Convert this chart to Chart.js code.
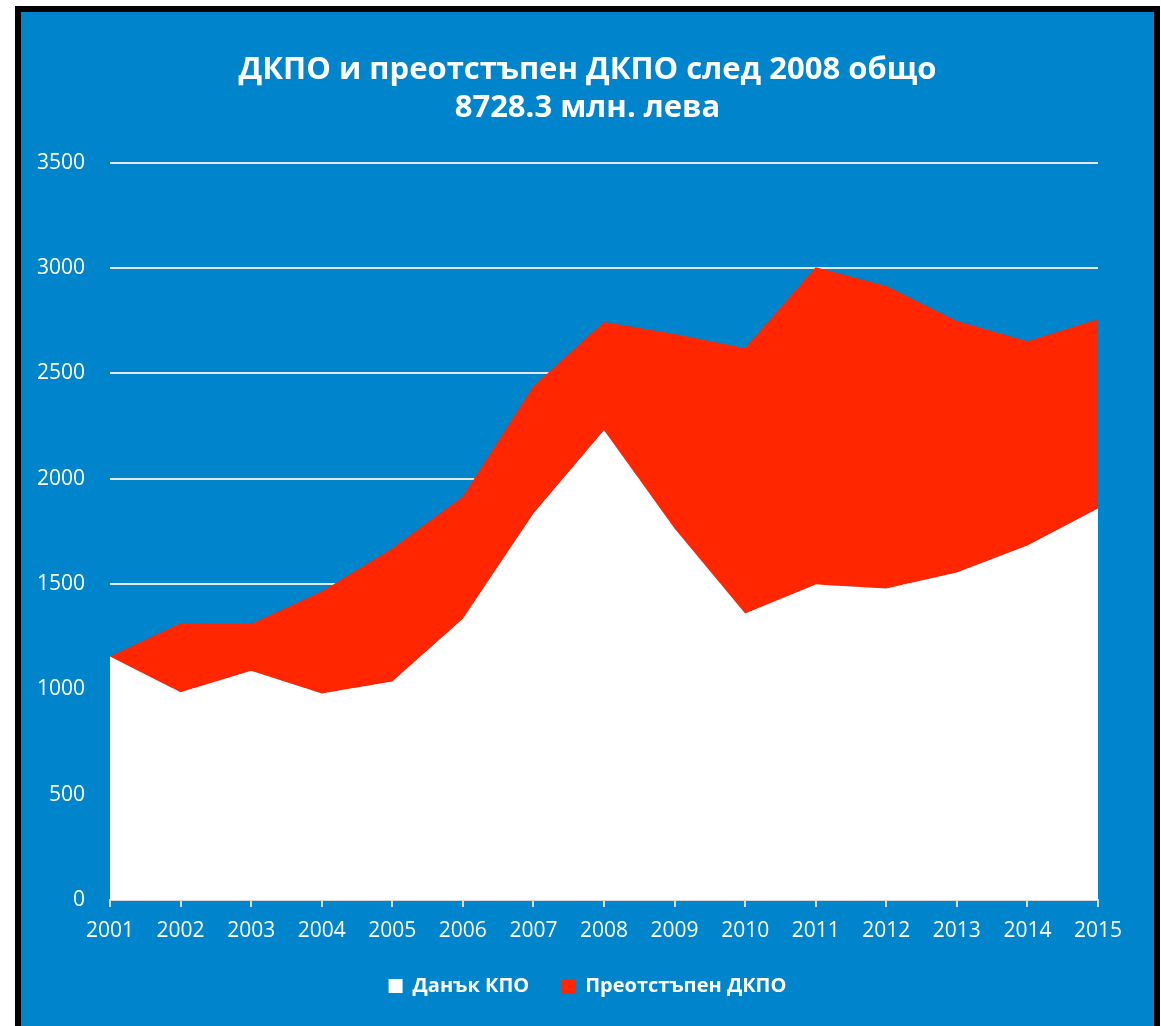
<!DOCTYPE html>
<html>
<head>
<meta charset="utf-8">
<script src="https://cdn.jsdelivr.net/npm/chart.js@4/dist/chart.umd.min.js"></script>
<style>
  html, body { margin: 0; padding: 0; background: #fff; overflow: hidden; }
  #frame {
    position: absolute; left: 15px; top: 6px;
    width: 1133px; height: 1014px;
    border: 6px solid #000; border-bottom: none;
    background: #0084cc;
  }
  #canvas { display: block; }
</style>
</head>
<body>
<div id="frame"><canvas id="canvas" width="1133" height="1014"></canvas></div>
<script>
var years = ['2001', '2002', '2003', '2004', '2005', '2006', '2007', '2008',
             '2009', '2010', '2011', '2012', '2013', '2014', '2015'];
// Данък КПО (долният, бял слой)
var tax = [1156, 986, 1088, 981, 1037, 1336, 1835, 2230, 1764, 1360, 1498, 1479, 1555, 1683, 1859];
// Преотстъпен ДКПО (горният, червен слой)
var waived = [0, 328, 223, 484, 632, 580, 604, 514, 923, 1260, 1507, 1436, 1194, 970, 899];
var titleLines = ['ДКПО и преотстъпен ДКПО след 2008 общо', '8728.3 млн. лева'];

var font = "'Open Sans', 'DejaVu Sans', sans-serif";
Chart.defaults.font.family = font;
Chart.defaults.color = '#ffffff';

new Chart('canvas', {
    type: 'line',
    data: {
        labels: years,
        datasets: [
            {
                label: 'Данък КПО',
                data: tax,
                backgroundColor: '#ffffff',
                borderColor: '#ffffff',
                borderWidth: 0,
                pointRadius: 0,
                fill: 'origin'
            },
            {
                label: 'Преотстъпен ДКПО',
                data: waived,
                backgroundColor: '#ff2600',
                borderColor: '#ff2600',
                borderWidth: 0,
                pointRadius: 0,
                fill: '-1'
            }
        ]
    },
    options: {
        responsive: false,
        animation: false,
        layout: { padding: { left: 0, right: 0, top: 0, bottom: 20 } },
        plugins: {
            title: {
                display: true,
                text: titleLines,
                color: '#ffffff',
                font: { size: 31, weight: 'bold', lineHeight: 1.24 },
                padding: { top: 39, bottom: 35 }
            },
            legend: {
                position: 'bottom',
                labels: {
                    color: '#ffffff',
                    boxWidth: 14,
                    boxHeight: 14,
                    padding: 32,
                    font: { size: 20, weight: 'bold' }
                }
            },
            tooltip: { enabled: false }
        },
        scales: {
            x: {
                offset: false,
                grid: {
                    drawOnChartArea: false,
                    color: '#d9d9d9',
                    lineWidth: 2,
                    tickLength: 7
                },
                border: { color: '#d9d9d9', width: 2 },
                ticks: { color: '#ffffff', font: { size: 21 }, padding: 11, maxRotation: 0 },
                afterFit: function (scale) { scale.height = 44; }
            },
            y: {
                stacked: true,
                min: 0,
                max: 3500,
                grid: { color: '#e6e6e6', lineWidth: 2, drawTicks: false },
                border: { display: false },
                ticks: {
                    stepSize: 500,
                    color: '#ffffff',
                    font: { size: 21 },
                    padding: 25,
                    callback: function (v) { return String(v); }
                },
                afterFit: function (scale) { scale.width = 89; }
            },
            // празно място вдясно от графиката
            yRight: {
                position: 'right',
                grid: { drawOnChartArea: false, drawTicks: false },
                border: { display: false },
                ticks: { display: false },
                afterFit: function (scale) { scale.width = 56; }
            }
        }
    }
});
</script>
</body>
</html>
